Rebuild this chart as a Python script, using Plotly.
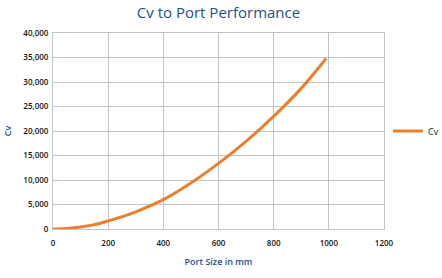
import plotly.graph_objects as go

port_size_mm = [0, 50, 100, 150, 200, 250, 300, 400, 500, 600, 700, 800, 900, 990]
cv_values = [0, 100, 400, 900, 1650, 2500, 3500, 6000, 9400, 13400, 17900, 23000, 28700, 34800]

x_ticks = [0, 200, 400, 600, 800, 1000, 1200]
y_ticks = [0, 5000, 10000, 15000, 20000, 25000, 30000, 35000, 40000]
y_tick_labels = ["0", "5,000", "10,000", "15,000", "20,000", "25,000", "30,000", "35,000", "40,000"]

fig = go.Figure()
fig.add_trace(go.Scatter(
    x=port_size_mm, y=cv_values, mode="lines", name="Cv",
    line=dict(color="#E8802F", width=3, shape="spline"),
))

tick_font = dict(size=8, color="#111111", weight=600)

fig.update_layout(
    width=442, height=278,
    margin=dict(l=53, r=58, t=33, b=49, autoexpand=False),
    paper_bgcolor="white", plot_bgcolor="white",
    font=dict(family="Open Sans, Lato, sans-serif", color="#222222"),
    title=dict(text="Cv to Port Performance", x=(53 + 384) / 2 / 442, xanchor="center",
               y=0.955, yanchor="middle",
               font=dict(size=15, color="#1D4F8E")),
    showlegend=True,
    legend=dict(x=1.012, xanchor="left", y=0.5, yanchor="middle",
                font=dict(size=9, color="#222222"), bgcolor="rgba(0,0,0,0)"),
    xaxis=dict(range=[0, 1200], tickvals=x_ticks, ticktext=[str(v) for v in x_ticks],
               showgrid=True, gridcolor="#C4C4C4", gridwidth=1,
               zeroline=False, showline=True, linecolor="#C4C4C4", mirror=True,
               ticks="", tickfont=tick_font, ticklabelstandoff=6,
               title=dict(text="Port Size in mm", font=dict(size=9, color="#1D4F8E", weight=600),
                          standoff=12)),
    yaxis=dict(range=[0, 40000], tickvals=y_ticks, ticktext=y_tick_labels,
               showgrid=True, gridcolor="#C4C4C4", gridwidth=1,
               zeroline=False, showline=True, linecolor="#C4C4C4", mirror=True,
               ticks="", tickfont=tick_font, ticklabelstandoff=2,
               title=dict(text="Cv", font=dict(size=9, color="#1D4F8E", weight=600), standoff=10)),
)

fig.write_html("out.html")
